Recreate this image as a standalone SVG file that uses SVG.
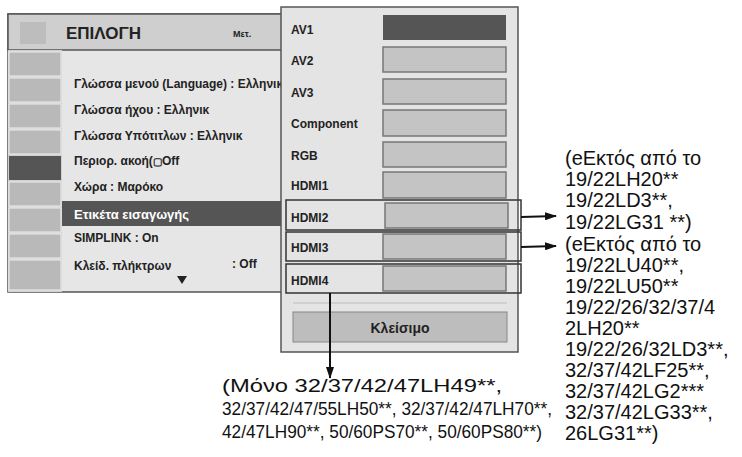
<svg xmlns="http://www.w3.org/2000/svg" width="742" height="457" viewBox="0 0 742 457">
<style>
.m{font-family:"Liberation Sans",Arial,sans-serif;font-weight:bold;font-size:12px;fill:#222}
.n{font-family:"Liberation Sans",Arial,sans-serif;font-size:19px;fill:#111}
.r{font-size:20px}
.bar{fill:#c4c4c4;stroke:#777;stroke-width:1.5}
.ic{fill:#b9b9b9;stroke:#eee;stroke-width:1}
.hb{fill:none;stroke:#333;stroke-width:1.5}
</style>
<defs><marker id="a" markerWidth="12" markerHeight="8" refX="11" refY="4" orient="auto" markerUnits="userSpaceOnUse"><path d="M0,0L12,4L0,8z" fill="#111"/></marker></defs>
<g id="menu">
<rect x="8" y="14" width="275" height="278" fill="#e6e6e6" stroke="#555" stroke-width="1.5"/>
<rect x="8" y="14" width="275" height="36" fill="#cfcfcf" stroke="#555" stroke-width="1.5"/>
<rect x="20" y="22" width="26" height="22" fill="#bdbdbd"/>
<text x="66" y="39" class="m" style="font-size:17px">ΕΠΙΛΟΓΗ</text>
<text x="233" y="37" class="m" style="font-size:9px">Μετ.</text>
<rect x="8" y="50" width="54" height="242" fill="#cfcfcf"/>
<rect x="9" y="52" width="52" height="24" class="ic"/><rect x="9" y="78" width="52" height="24" class="ic"/><rect x="9" y="104" width="52" height="24" class="ic"/><rect x="9" y="130" width="52" height="24" class="ic"/><rect x="9" y="156" width="52" height="24" fill="#555"/><rect x="9" y="182" width="52" height="24" class="ic"/><rect x="9" y="208" width="52" height="24" class="ic"/><rect x="9" y="234" width="52" height="24" class="ic"/><rect x="9" y="260" width="52" height="30" class="ic"/>
<rect x="62" y="201" width="221" height="25" fill="#555"/>
<text x="74" y="88" class="m">Γλώσσα μενού (Language) : Ελληνικ</text>
<text x="74" y="114" class="m">Γλώσσα ήχου : Ελληνικ</text>
<text x="74" y="140" class="m">Γλώσσα Υπότιτλων : Ελληνικ</text>
<text x="74" y="165" class="m">Περιορ. ακοή(<tspan font-size="10">▢</tspan>Off</text>
<text x="74" y="191" class="m">Χώρα : Μαρόκο</text>
<text x="74" y="219" class="m" style="fill:#fff;font-size:13px">Ετικέτα εισαγωγής</text>
<text x="74" y="242" class="m">SIMPLINK : On</text>
<text x="74" y="270" class="m">Κλείδ. πλήκτρων</text>
<text x="232" y="268" class="m">: Off</text>
<path d="M177,276h10l-5,8z" fill="#222"/>
</g>
<g id="popup">
<rect x="281" y="7" width="237" height="345" fill="#e4e4e4" stroke="#555" stroke-width="1.5"/>
<rect x="383" y="15" width="123" height="25" fill="#555"/>
<rect x="383" y="47" width="123" height="25" class="bar"/>
<rect x="383" y="79" width="123" height="25" class="bar"/>
<rect x="383" y="110" width="123" height="26" class="bar"/>
<rect x="383" y="142" width="123" height="25" class="bar"/>
<rect x="383" y="172" width="123" height="26" class="bar"/>
<rect x="385" y="203" width="123" height="25" class="bar"/>
<rect x="383" y="234" width="123" height="25" class="bar"/>
<rect x="383" y="266" width="123" height="25" class="bar"/>
<rect x="286" y="200" width="235" height="30" class="hb"/>
<rect x="286" y="232" width="235" height="29" class="hb"/>
<rect x="286" y="264" width="235" height="29" class="hb"/>
<text x="291" y="34" class="m">AV1</text>
<text x="291" y="65" class="m">AV2</text>
<text x="291" y="97" class="m">AV3</text>
<text x="291" y="128" class="m">Component</text>
<text x="291" y="160" class="m">RGB</text>
<text x="291" y="190" class="m">HDMI1</text>
<text x="291" y="222" class="m">HDMI2</text>
<text x="291" y="252" class="m">HDMI3</text>
<text x="291" y="285" class="m">HDMI4</text>
<line x1="293" y1="303" x2="507" y2="303" stroke="#bbb"/>
<rect x="293" y="312" width="214" height="30" fill="#bdbdbd" stroke="#888"/>
<text x="400" y="333" class="m" text-anchor="middle" style="font-size:14px">Κλείσιμο</text>
</g>
<g id="connectors" stroke="#111" stroke-width="2" fill="none">
<line x1="521" y1="217" x2="556" y2="216" marker-end="url(#a)"/>
<line x1="521" y1="247" x2="556" y2="246" marker-end="url(#a)"/>
<line x1="330" y1="293" x2="330" y2="378" marker-end="url(#a)"/>
</g>
<g id="notes">
<text x="565" y="165" class="n r">(eΕκτός από το</text>
<text x="565" y="186" class="n r">19/22LH20**</text>
<text x="565" y="207" class="n r">19/22LD3**,</text>
<text x="565" y="229" class="n r">19/22LG31 **)</text>
<text x="565" y="251" class="n r">(eΕκτός από το</text>
<text x="565" y="272" class="n r">19/22LU40**,</text>
<text x="565" y="293" class="n r">19/22LU50**</text>
<text x="565" y="314" class="n r">19/22/26/32/37/4</text>
<text x="565" y="335" class="n r">2LH20**</text>
<text x="565" y="356" class="n r">19/22/26/32LD3**,</text>
<text x="565" y="377" class="n r">32/37/42LF25**,</text>
<text x="565" y="398" class="n r">32/37/42LG2***</text>
<text x="565" y="419" class="n r">32/37/42LG33**,</text>
<text x="565" y="440" class="n r">26LG31**)</text>
<text x="222" y="392" class="n" textLength="280" lengthAdjust="spacingAndGlyphs">(Μόνο 32/37/42/47LH49**,</text>
<text x="222" y="415" class="n" textLength="330" lengthAdjust="spacingAndGlyphs">32/37/42/47/55LH50**, 32/37/42/47LH70**,</text>
<text x="222" y="438" class="n" textLength="320" lengthAdjust="spacingAndGlyphs">42/47LH90**, 50/60PS70**, 50/60PS80**)</text>
</g>
</svg>
